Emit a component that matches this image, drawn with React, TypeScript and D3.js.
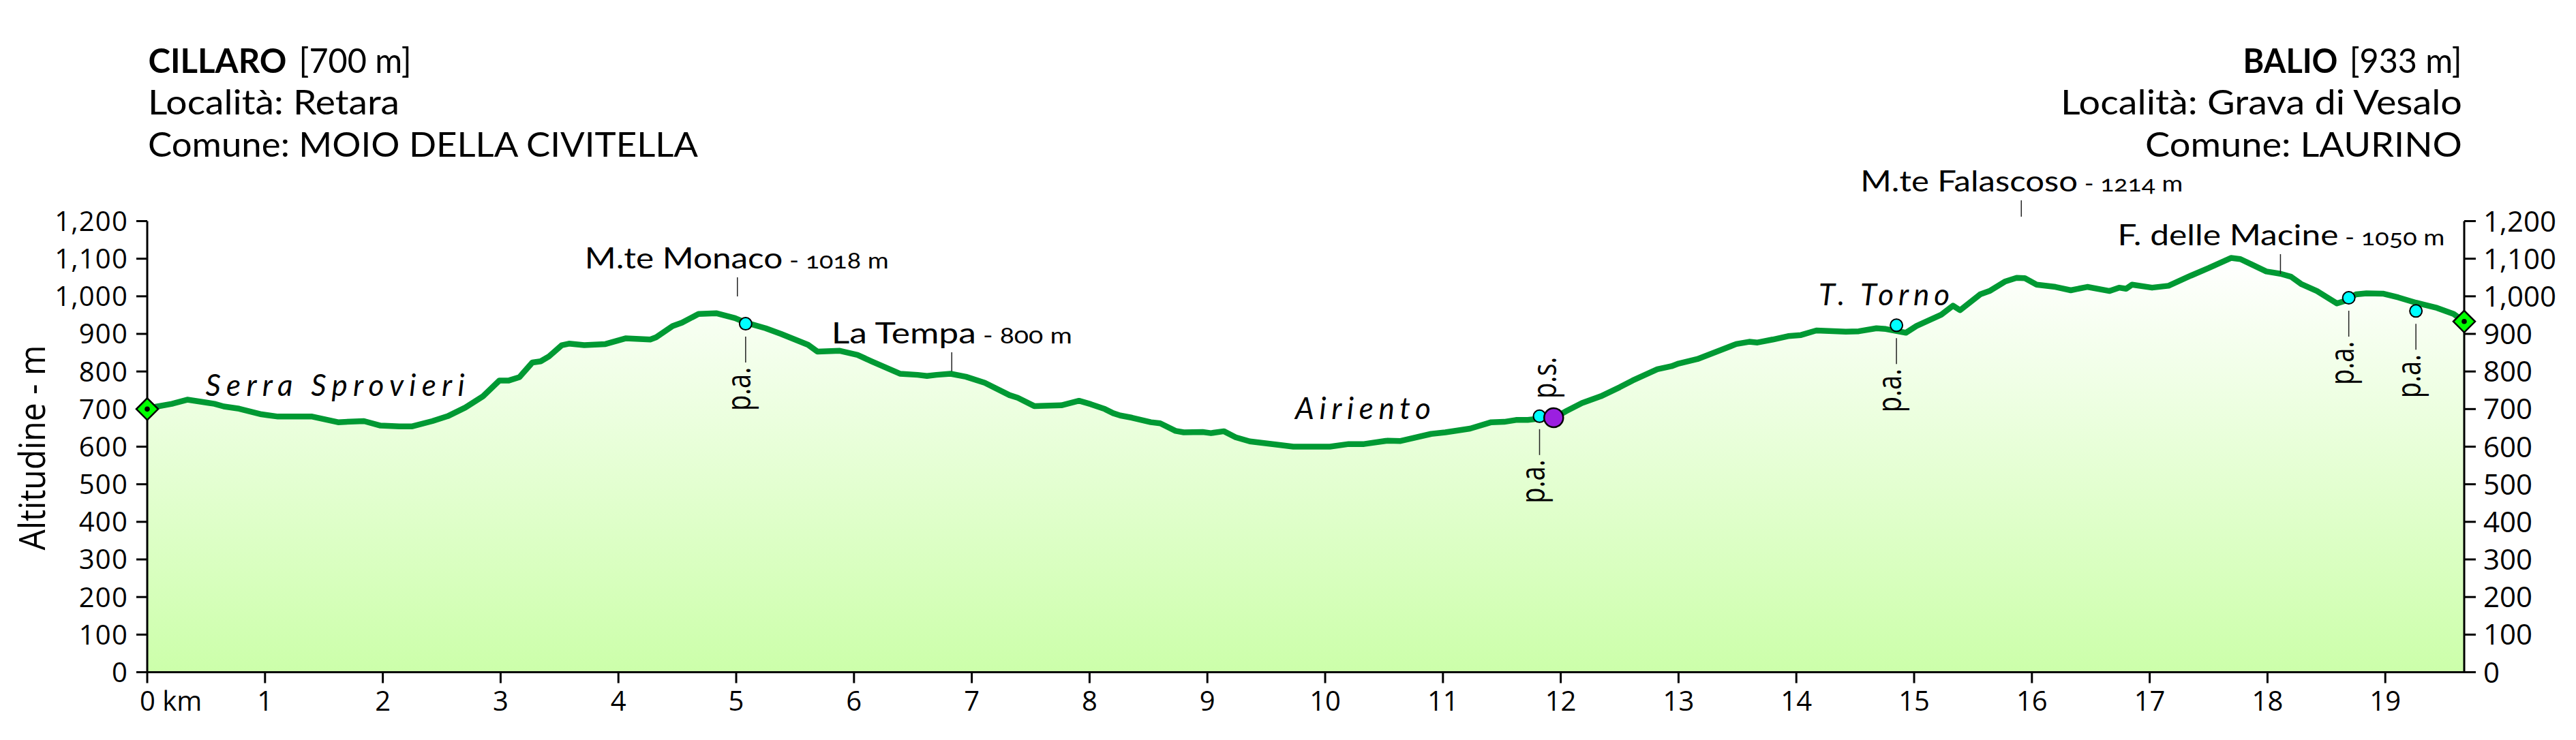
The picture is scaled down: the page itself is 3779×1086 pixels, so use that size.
import React from "react";
import * as d3 from "d3";

// ---------- DATA ----------
const distanceKm = [
  0, 0.07, 0.21, 0.34, 0.51, 0.57, 0.65, 0.78, 0.97, 1.02, 1.11, 1.4, 1.62, 1.84, 1.98, 2.14, 2.25,
  2.42, 2.55, 2.7, 2.85, 2.99, 3.07, 3.16, 3.27, 3.34, 3.41, 3.52, 3.58, 3.71, 3.89, 4.06, 4.27,
  4.32, 4.46, 4.54, 4.68, 4.83, 4.99, 5.08, 5.25, 5.38, 5.61, 5.69, 5.88, 6.03, 6.15, 6.39, 6.54,
  6.62, 6.7, 6.82, 6.95, 7.11, 7.32, 7.39, 7.53, 7.76, 7.91, 8.01, 8.13, 8.2, 8.26, 8.36, 8.52,
  8.6, 8.73, 8.8, 8.96, 9.03, 9.14, 9.24, 9.36, 9.6, 9.73, 10.04, 10.2, 10.33, 10.53, 10.64, 10.9,
  11.02, 11.23, 11.41, 11.52, 11.62, 11.72, 11.83, 11.94, 12.05, 12.18, 12.34, 12.5, 12.61, 12.82,
  12.94, 13.0, 13.16, 13.49, 13.6, 13.67, 13.8, 13.93, 14.04, 14.17, 14.42, 14.53, 14.68, 14.76,
  14.93, 15.02, 15.23, 15.33, 15.39, 15.56, 15.64, 15.77, 15.87, 15.94, 16.04, 16.2, 16.33, 16.47,
  16.66, 16.74, 16.8, 16.85, 17.02, 17.16, 17.35, 17.5, 17.69, 17.77, 17.99, 18.11, 18.2, 18.29,
  18.42, 18.59, 18.65, 18.75, 18.84, 18.98, 19.11, 19.26, 19.44, 19.58, 19.67,
];
const elevationM = [
  700, 706, 714, 725, 717, 714, 707, 701, 686, 684, 680, 680, 665, 668, 656, 654, 654,
  668, 681, 704, 734, 776, 776, 785, 824, 827, 840, 870, 874, 870, 873, 888, 885,
  891, 921, 930, 953, 955, 942, 930, 915, 900, 871, 853, 855, 844, 827, 794, 791,
  788, 791, 794, 786, 770, 737, 730, 708, 710, 722, 713, 700, 689, 683, 677, 665,
  662, 642, 638, 639, 636, 641, 625, 614, 605, 600, 600, 607, 607, 616, 615, 634,
  638, 648, 665, 666, 671, 671, 675, 676, 695, 716, 734, 758, 776, 806,
  814, 821, 833, 873, 879, 877, 885, 894, 897, 909, 906, 907, 915, 913,
  903, 921, 951, 975, 963, 1005, 1014, 1039, 1049, 1048, 1031, 1025, 1016, 1025,
  1014, 1023, 1020, 1031, 1023, 1028, 1055, 1075, 1102, 1099, 1066, 1060, 1052, 1032,
  1014, 981, 987, 1005, 1008, 1007, 997, 983, 969, 953, 933,
];

const xTickValues = d3.range(0, 20);
const yTickValues = d3.range(0, 1300, 100);

const startTitle = ["CILLARO", "[700 m]", "Località: Retara", "Comune: MOIO DELLA CIVITELLA"];
const endTitle = ["BALIO", "[933 m]", "Località: Grava di Vesalo", "Comune: LAURINO"];
const startElev = 700;
const endElev = 933;

const peakNames = ["M.te Monaco", "La Tempa", "M.te Falascoso", "F. delle Macine"];
const peakHeights = ["1018 m", "800 m", "1214 m", "1050 m"];
const peakKm = [5.01, 6.83, 15.91, 18.11];

const placeNames = ["Serra Sprovieri", "Airiento", "T. Torno"];
const placeKm = [0.495, 9.745, 14.19];

const paKm = [5.08, 11.82, 14.85, 18.69, 19.26];
const paElev = [927, 681, 923, 996, 961];
const psKm = [11.94];
const psElev = [677];

const yAxisTitle = "Altitudine - m";

// ---------- LAYOUT ----------
const W = 3779;
const H = 1086;
const M = { left: 216, right: 3615, top: 324.5, bottom: 986.5 };
const AXIS_FONT = "'Open Sans', 'Noto Sans', sans-serif";
const LABEL_FONT = "Lato, 'Open Sans', sans-serif";

const peakLeaderTop = [407, 517, 294, 373];
const peakLeaderBottom = [435, 545, 318, 402];
const peakTextDx = [-224, -176.5, -236, -239];
const peakTextWidth = [446, 353, 473, 480];

const placeBaseline = [581, 615, 448];
const placeWidth = [380, 199, 192];

// title blocks: [x, baseline, width]
const titleBoldLeft = [217.5, 107, 203];
const titleBracketLeft = [438.6, 107, 165];
const titleLinesLeft = [
  [217, 168, 369],
  [217, 230, 807],
];
const titleBoldRight = [3290.5, 107, 139];
const titleBracketRight = [3446.7, 107, 165];
const titleLinesRight = [
  [3023, 168, 589],
  [3147, 230, 465],
];

export default function App() {
  const x = d3.scaleLinear().domain([0, 19.67]).range([M.left, M.right]);
  const y = d3.scaleLinear().domain([0, 1200]).range([M.bottom, M.top]);

  const pts = distanceKm.map((d, i) => [d, elevationM[i]] as [number, number]);
  const line = d3
    .line<[number, number]>()
    .x((d) => x(d[0]))
    .y((d) => y(d[1]));
  const area = d3
    .area<[number, number]>()
    .x((d) => x(d[0]))
    .y0(y(0))
    .y1((d) => y(d[1]));

  const fmt = d3.format(",");
  const xEnd = x(19.67);

  const diamond = (cx: number, cy: number, key: string) => (
    <g key={key}>
      <path
        d={`M${cx},${cy - 16} L${cx + 16},${cy} L${cx},${cy + 16} L${cx - 16},${cy} Z`}
        fill="#00ff00"
        stroke="#000"
        strokeWidth={2.5}
      />
      <circle cx={cx} cy={cy} r={3.8} fill="#000" />
    </g>
  );

  const tText = (p: number[], s: string, bold: boolean, key: string) => (
    <text
      key={key}
      x={p[0]}
      y={p[1]}
      textLength={p[2]}
      lengthAdjust="spacingAndGlyphs"
      fontWeight={bold ? "bold" : "normal"}
    >
      {s}
    </text>
  );

  return (
    <svg
      width={W}
      height={H}
      viewBox={`0 0 ${W} ${H}`}
      style={{ position: "absolute", left: 0, top: 0, background: "#fff" }}
      fontFamily={AXIS_FONT}
    >
      <defs>
        <linearGradient id="fillGrad" gradientUnits="userSpaceOnUse" x1={0} y1={y(1100)} x2={0} y2={y(0)}>
          <stop offset="0" stopColor="#ffffff" />
          <stop offset="1" stopColor="#ccffaa" />
        </linearGradient>
      </defs>

      {/* Area + line */}
      <path d={area(pts) || ""} fill="url(#fillGrad)" />
      <path
        d={line(pts) || ""}
        fill="none"
        stroke="#009933"
        strokeWidth={8.5}
        strokeLinejoin="round"
        strokeLinecap="round"
      />

      {/* Axes */}
      <g stroke="#000" strokeWidth={3} fill="none">
        <line x1={M.left} y1={M.top} x2={M.left} y2={M.bottom} />
        <line x1={xEnd} y1={M.top} x2={xEnd} y2={M.bottom} />
        <line x1={M.left} y1={M.bottom} x2={xEnd} y2={M.bottom} />
        {yTickValues.map((v) => (
          <line key={"lt" + v} x1={M.left - 16} x2={M.left} y1={y(v)} y2={y(v)} />
        ))}
        {yTickValues.map((v) => (
          <line key={"rt" + v} x1={xEnd} x2={xEnd + 17} y1={y(v)} y2={y(v)} />
        ))}
        {xTickValues.map((v) => (
          <line key={"xt" + v} x1={x(v)} x2={x(v)} y1={M.bottom} y2={M.bottom + 16} />
        ))}
      </g>

      {/* Left tick labels */}
      {yTickValues.map((v) => (
        <text
          key={"ll" + v}
          x={M.left - 28}
          y={y(v)}
          dy="0.36em"
          textAnchor="end"
          fontSize={40}
          letterSpacing={1.2}
          fill="#000"
        >
          {fmt(v)}
        </text>
      ))}
      {/* Right tick labels */}
      {yTickValues.map((v) => (
        <text key={"rl" + v} x={xEnd + 28} y={y(v)} dy="0.36em" textAnchor="start" fontSize={42} fill="#000">
          {fmt(v)}
        </text>
      ))}
      {/* X tick labels */}
      {xTickValues.map((v) =>
        v === 0 ? (
          <text key={"xl" + v} x={x(v) - 11} y={1043} textAnchor="start" fontSize={40} fill="#000">
            0 km
          </text>
        ) : (
          <text key={"xl" + v} x={x(v)} y={1043} textAnchor="middle" fontSize={40} fill="#000">
            {v}
          </text>
        )
      )}

      {/* Y axis title */}
      <text
        transform={`translate(66,657) rotate(-90) scale(1,1.1)`}
        textAnchor="middle"
        fontSize={48}
        fill="#000"
      >
        {yAxisTitle}
      </text>

      {/* Titles */}
      <g fontSize={50} fill="#000" fontFamily={LABEL_FONT}>
        {tText(titleBoldLeft, startTitle[0], true, "tl0")}
        {tText(titleBracketLeft, startTitle[1], false, "tl1")}
        {tText(titleLinesLeft[0], startTitle[2], false, "tl2")}
        {tText(titleLinesLeft[1], startTitle[3], false, "tl3")}
        {tText(titleBoldRight, endTitle[0], true, "tr0")}
        {tText(titleBracketRight, endTitle[1], false, "tr1")}
        {tText(titleLinesRight[0], endTitle[2], false, "tr2")}
        {tText(titleLinesRight[1], endTitle[3], false, "tr3")}
      </g>

      {/* Peak labels */}
      {peakNames.map((n, i) => {
        const lx = x(peakKm[i]);
        return (
          <g key={"pk" + i}>
            <line x1={lx} x2={lx} y1={peakLeaderTop[i]} y2={peakLeaderBottom[i]} stroke="#222" strokeWidth={1.5} />
            <text
              x={lx + peakTextDx[i]}
              y={peakLeaderTop[i] - 13}
              fontSize={42}
              fontFamily={LABEL_FONT}
              fill="#000"
              textLength={peakTextWidth[i]}
              lengthAdjust="spacingAndGlyphs"
            >
              <tspan>{n}</tspan>
              <tspan fontSize={32} style={{ fontVariantNumeric: "oldstyle-nums" }}>
                {" - " + peakHeights[i]}
              </tspan>
            </text>
          </g>
        );
      })}

      {/* Place labels (italic) */}
      {placeNames.map((n, i) => (
        <text
          key={"pl" + i}
          x={x(placeKm[i])}
          y={placeBaseline[i]}
          fontSize={44}
          fontStyle="italic"
          fontFamily={LABEL_FONT}
          fill="#000"
          textLength={placeWidth[i]}
          lengthAdjust="spacing"
        >
          {n}
        </text>
      ))}

      {/* p.a. markers */}
      {paKm.map((k, i) => {
        const mx = x(k);
        const my = y(paElev[i]);
        return (
          <g key={"pa" + i}>
            <line x1={mx} x2={mx} y1={my + 19} y2={my + 57} stroke="#222" strokeWidth={1.5} />
            <text
              transform={`translate(${mx + 7},${my + 128}) rotate(-90) scale(1,1.3)`}
              fontSize={38}
              fill="#000"
            >
              p.a.
            </text>
            <circle cx={mx} cy={my} r={9} fill="#00ffff" stroke="#000" strokeWidth={2} />
          </g>
        );
      })}

      {/* p.s. marker */}
      {psKm.map((k, i) => {
        const mx = x(k);
        const my = y(psElev[i]);
        return (
          <g key={"ps" + i}>
            <text
              transform={`translate(${mx + 4},${my - 28}) rotate(-90) scale(1,1.3)`}
              fontSize={38}
              fill="#000"
            >
              p.s.
            </text>
            <circle cx={mx} cy={my} r={14} fill="#9b1fe0" stroke="#000" strokeWidth={2.5} />
          </g>
        );
      })}

      {/* Start / end diamonds */}
      {diamond(x(0), y(startElev), "start")}
      {diamond(xEnd, y(endElev), "end")}
    </svg>
  );
}
